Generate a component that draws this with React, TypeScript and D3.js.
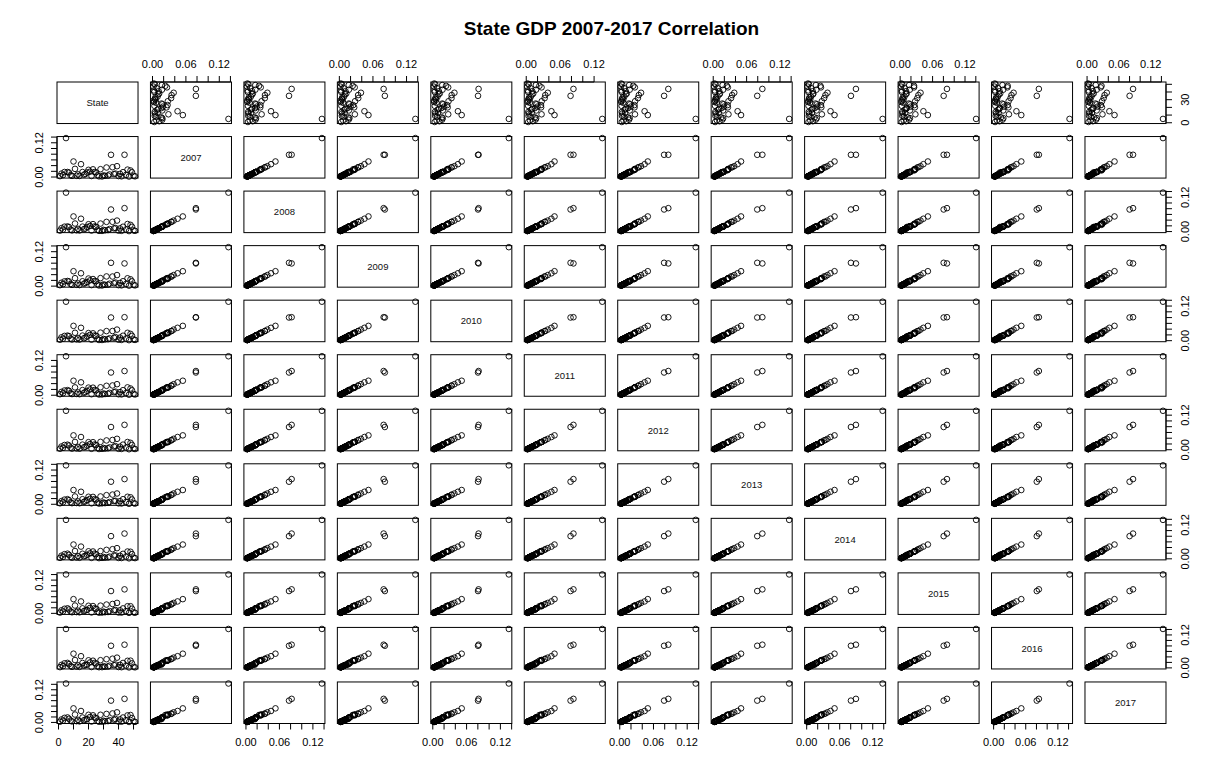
import * as d3 from 'd3';

// states in postal-code order, as in the source data frame
const STATES = [
  'AK', 'AL', 'AR', 'AZ', 'CA', 'CO', 'CT', 'DC', 'DE', 'FL', 'GA', 'HI', 'IA',
  'ID', 'IL', 'IN', 'KS', 'KY', 'LA', 'MA', 'MD', 'ME', 'MI', 'MN', 'MO', 'MS',
  'MT', 'NC', 'ND', 'NE', 'NH', 'NJ', 'NM', 'NV', 'NY', 'OH', 'OK', 'OR', 'PA',
  'RI', 'SC', 'SD', 'TN', 'TX', 'UT', 'VA', 'VT', 'WA', 'WI', 'WV', 'WY',
];

const YEARS = ['2007', '2008', '2009', '2010', '2011', '2012', '2013', '2014', '2015', '2016', '2017'];

// share of national GDP per state
const gdp2007 = [.0032, .0120, .0068, .0176, .1365, .0176, .0156, .0067, .0040, .0545, .0286, .0043, .0092, .0038, .0450, .0175, .0085, .0107, .0160, .0252, .0187, .0035, .0270, .0176, .0163, .0064, .0024, .0275, .0020, .0057, .0042, .0334, .0052, .0091, .0779, .0343, .0104, .0120, .0380, .0033, .0110, .0025, .0170, .0780, .0073, .0260, .0017, .0230, .0167, .0042, .0025];
const gdp2008 = [.0035, .0120, .0068, .0171, .1362, .0180, .0157, .0070, .0041, .0529, .0281, .0045, .0094, .0038, .0449, .0173, .0088, .0107, .0161, .0257, .0195, .0035, .0260, .0179, .0165, .0066, .0024, .0280, .0023, .0059, .0043, .0338, .0053, .0089, .0772, .0341, .0111, .0123, .0384, .0033, .0110, .0026, .0169, .0819, .0074, .0265, .0017, .0235, .0167, .0043, .0027];
const gdp2009 = [.0033, .0118, .0068, .0166, .1358, .0180, .0163, .0074, .0044, .0520, .0277, .0047, .0094, .0037, .0448, .0170, .0088, .0109, .0144, .0265, .0201, .0036, .0247, .0179, .0170, .0067, .0024, .0280, .0023, .0060, .0044, .0338, .0052, .0085, .0813, .0335, .0101, .0124, .0386, .0034, .0110, .0027, .0171, .0791, .0075, .0274, .0018, .0238, .0167, .0044, .0027];
const gdp2010 = [.0034, .0117, .0068, .0165, .1350, .0176, .0158, .0076, .0042, .0513, .0274, .0046, .0093, .0037, .0446, .0177, .0086, .0110, .0149, .0264, .0202, .0035, .0255, .0180, .0169, .0066, .0024, .0279, .0024, .0060, .0043, .0332, .0052, .0084, .0803, .0335, .0102, .0124, .0384, .0034, .0108, .0027, .0172, .0813, .0074, .0273, .0018, .0236, .0168, .0043, .0026];
const gdp2011 = [.0035, .0115, .0067, .0164, .1345, .0176, .0152, .0075, .0040, .0500, .0271, .0046, .0096, .0036, .0445, .0178, .0087, .0107, .0151, .0263, .0199, .0034, .0261, .0182, .0167, .0064, .0025, .0274, .0027, .0062, .0042, .0325, .0052, .0082, .0784, .0337, .0106, .0124, .0381, .0033, .0107, .0028, .0174, .0835, .0075, .0271, .0018, .0233, .0170, .0045, .0026];
const gdp2012 = [.0036, .0113, .0066, .0165, .1352, .0176, .0147, .0073, .0040, .0499, .0271, .0046, .0097, .0036, .0442, .0177, .0087, .0106, .0145, .0263, .0197, .0033, .0262, .0182, .0164, .0063, .0025, .0273, .0032, .0062, .0041, .0323, .0051, .0081, .0789, .0339, .0109, .0125, .0379, .0033, .0107, .0028, .0177, .0864, .0077, .0269, .0017, .0240, .0168, .0043, .0025];
const gdp2013 = [.0034, .0112, .0067, .0164, .1365, .0179, .0144, .0071, .0039, .0500, .0274, .0045, .0099, .0037, .0438, .0178, .0087, .0107, .0148, .0263, .0194, .0033, .0259, .0183, .0163, .0063, .0025, .0274, .0033, .0064, .0041, .0320, .0050, .0079, .0791, .0340, .0112, .0121, .0378, .0032, .0108, .0028, .0178, .0883, .0079, .0263, .0017, .0245, .0168, .0043, .0025];
const gdp2014 = [.0033, .0111, .0066, .0164, .1380, .0183, .0142, .0069, .0039, .0506, .0276, .0045, .0097, .0037, .0433, .0179, .0088, .0107, .0145, .0266, .0193, .0033, .0260, .0184, .0161, .0061, .0025, .0275, .0033, .0064, .0041, .0317, .0050, .0079, .0804, .0341, .0116, .0120, .0378, .0031, .0109, .0028, .0177, .0895, .0080, .0259, .0017, .0250, .0168, .0042, .0025];
const gdp2015 = [.0028, .0110, .0065, .0165, .1405, .0182, .0140, .0070, .0039, .0513, .0282, .0046, .0095, .0037, .0430, .0180, .0084, .0106, .0125, .0273, .0195, .0032, .0263, .0184, .0161, .0059, .0025, .0278, .0029, .0063, .0041, .0317, .0049, .0080, .0805, .0338, .0106, .0120, .0377, .0031, .0110, .0027, .0179, .0866, .0081, .0257, .0017, .0257, .0167, .0039, .0022];
const gdp2016 = [.0027, .0110, .0064, .0166, .1418, .0182, .0137, .0070, .0038, .0517, .0286, .0046, .0093, .0037, .0426, .0179, .0083, .0105, .0118, .0276, .0198, .0032, .0262, .0183, .0160, .0058, .0025, .0280, .0027, .0062, .0041, .0316, .0049, .0080, .0806, .0334, .0100, .0123, .0373, .0031, .0111, .0026, .0180, .0845, .0084, .0258, .0017, .0263, .0165, .0038, .0021];
const gdp2017 = [.0027, .0109, .0064, .0168, .1430, .0184, .0135, .0070, .0037, .0517, .0290, .0046, .0093, .0038, .0420, .0180, .0082, .0104, .0120, .0280, .0199, .0032, .0261, .0183, .0158, .0057, .0025, .0281, .0028, .0061, .0041, .0312, .0049, .0081, .0801, .0330, .0100, .0125, .0371, .0030, .0111, .0026, .0181, .0866, .0085, .0258, .0017, .0272, .0163, .0038, .0020];

const SHARES = [gdp2007, gdp2008, gdp2009, gdp2010, gdp2011, gdp2012, gdp2013, gdp2014, gdp2015, gdp2016, gdp2017];

const STATE_TICKS = [0, 10, 20, 30, 40, 50];
const STATE_LABELS_H = [0, 20, 40];
const STATE_LABELS_V = [0, 30];
const SHARE_TICKS = [0, 0.02, 0.04, 0.06, 0.08, 0.1, 0.12, 0.14];
const SHARE_LABELS_H = [0, 0.06, 0.12];
const SHARE_LABELS_V = [0, 0.12];

const FONT = 'Liberation Sans, Arial, Helvetica, sans-serif';

interface Variable {
  name: string;
  values: number[];
  ticks: number[];
  labelsH: number[];
  labelsV: number[];
  fmt: (v: number) => string;
}

export default function App() {
  const width = 1222;
  const height = 780;

  const vars: Variable[] = [
    {
      name: 'State',
      values: STATES.map((_, i) => i + 1),
      ticks: STATE_TICKS,
      labelsH: STATE_LABELS_H,
      labelsV: STATE_LABELS_V,
      fmt: (v) => String(v),
    },
    ...YEARS.map((y, i) => ({
      name: y,
      values: SHARES[i],
      ticks: SHARE_TICKS,
      labelsH: SHARE_LABELS_H,
      labelsV: SHARE_LABELS_V,
      fmt: (v: number) => v.toFixed(2),
    })),
  ];
  const n = vars.length;
  const idx = d3.range(n);

  const col = d3.scaleBand<number>().domain(idx).range([57, 1166]).paddingInner(0.133);
  const row = d3.scaleBand<number>().domain(idx).range([82, 723.5]).paddingInner(0.2385);
  const pw = col.bandwidth();
  const ph = row.bandwidth();

  // R-style range: data extent widened by 4% on each side
  const domainOf = (v: number[]) => {
    const [lo, hi] = d3.extent(v) as [number, number];
    const pad = (hi - lo) * 0.04;
    return [lo - pad, hi + pad];
  };
  const xs = vars.map((v) => d3.scaleLinear().domain(domainOf(v.values)).range([0, pw]));
  const ys = vars.map((v) => d3.scaleLinear().domain(domainOf(v.values)).range([ph, 0]));

  const inDomain = (s: d3.ScaleLinear<number, number>, t: number) => {
    const [a, b] = s.domain();
    return t >= a && t <= b;
  };

  const tickLen = 6;
  const tickStyle = { stroke: '#000', strokeWidth: 1 };
  const labelStyle = { fontFamily: FONT, fontSize: 11, fill: '#000' };

  const panels = [];
  for (const i of idx) {
    for (const j of idx) {
      const x0 = col(j)!;
      const y0 = row(i)!;
      const items = [];
      items.push(
        <rect key="frame" x={0} y={0} width={pw} height={ph} fill="none" stroke="#000" strokeWidth={1} />
      );
      if (i === j) {
        items.push(
          <text key="lab" x={pw / 2} y={ph / 2} textAnchor="middle" dominantBaseline="central"
            style={{ fontFamily: FONT, fontSize: 9.5, fill: '#111' }}>{vars[i].name}</text>
        );
      } else {
        const xv = vars[j].values;
        const yv = vars[i].values;
        xv.forEach((v, k) => {
          items.push(
            <circle key={k} cx={xs[j](v)} cy={ys[i](yv[k])} r={2.8} fill="none" stroke="#000" strokeWidth={0.9} />
          );
        });
      }

      // top axis
      if (i === 0 && j % 2 === 1) {
        const s = xs[j];
        const t = vars[j].ticks.filter((v) => inDomain(s, v));
        items.push(
          <g key="top">
            <line x1={s(t[0])} x2={s(t[t.length - 1])} y1={0} y2={0} {...tickStyle} />
            {t.map((v) => <line key={v} x1={s(v)} x2={s(v)} y1={0} y2={-tickLen} {...tickStyle} />)}
            {vars[j].labelsH.map((v) => (
              <text key={'l' + v} x={s(v)} y={-14} textAnchor="middle" style={labelStyle}>{vars[j].fmt(v)}</text>
            ))}
          </g>
        );
      }
      // bottom axis
      if (i === n - 1 && j % 2 === 0) {
        const s = xs[j];
        const t = vars[j].ticks.filter((v) => inDomain(s, v));
        items.push(
          <g key="bottom">
            <line x1={s(t[0])} x2={s(t[t.length - 1])} y1={ph} y2={ph} {...tickStyle} />
            {t.map((v) => <line key={v} x1={s(v)} x2={s(v)} y1={ph} y2={ph + tickLen} {...tickStyle} />)}
            {vars[j].labelsH.map((v) => (
              <text key={'l' + v} x={s(v)} y={ph + 23} textAnchor="middle" style={labelStyle}>{vars[j].fmt(v)}</text>
            ))}
          </g>
        );
      }
      // left axis
      if (j === 0 && i % 2 === 1) {
        const s = ys[i];
        const t = vars[i].ticks.filter((v) => inDomain(s, v));
        items.push(
          <g key="left">
            <line x1={0} x2={0} y1={s(t[0])} y2={s(t[t.length - 1])} {...tickStyle} />
            {t.map((v) => <line key={v} x1={0} x2={-tickLen} y1={s(v)} y2={s(v)} {...tickStyle} />)}
            {vars[i].labelsV.map((v) => (
              <text key={'l' + v} transform={`translate(-14,${s(v)}) rotate(-90)`} textAnchor="middle" style={labelStyle}>
                {vars[i].fmt(v)}
              </text>
            ))}
          </g>
        );
      }
      // right axis
      if (j === n - 1 && i % 2 === 0) {
        const s = ys[i];
        const t = vars[i].ticks.filter((v) => inDomain(s, v));
        items.push(
          <g key="right">
            <line x1={pw} x2={pw} y1={s(t[0])} y2={s(t[t.length - 1])} {...tickStyle} />
            {t.map((v) => <line key={v} x1={pw} x2={pw + tickLen} y1={s(v)} y2={s(v)} {...tickStyle} />)}
            {vars[i].labelsV.map((v) => (
              <text key={'l' + v} transform={`translate(${pw + 22.5},${s(v)}) rotate(-90)`} textAnchor="middle" style={labelStyle}>
                {vars[i].fmt(v)}
              </text>
            ))}
          </g>
        );
      }

      panels.push(
        <g key={`${i}-${j}`} transform={`translate(${x0},${y0})`}>{items}</g>
      );
    }
  }

  return (
    <svg width={width} height={height} style={{ position: 'absolute', left: 0, top: 0, background: '#fff' }}>
      <rect width={width} height={height} fill="#fff" />
      <text x={611.5} y={35} textAnchor="middle" style={{ fontFamily: FONT, fontSize: 19, fontWeight: 'bold', fill: '#000' }}>
        State GDP 2007-2017 Correlation
      </text>
      {panels}
    </svg>
  );
}
